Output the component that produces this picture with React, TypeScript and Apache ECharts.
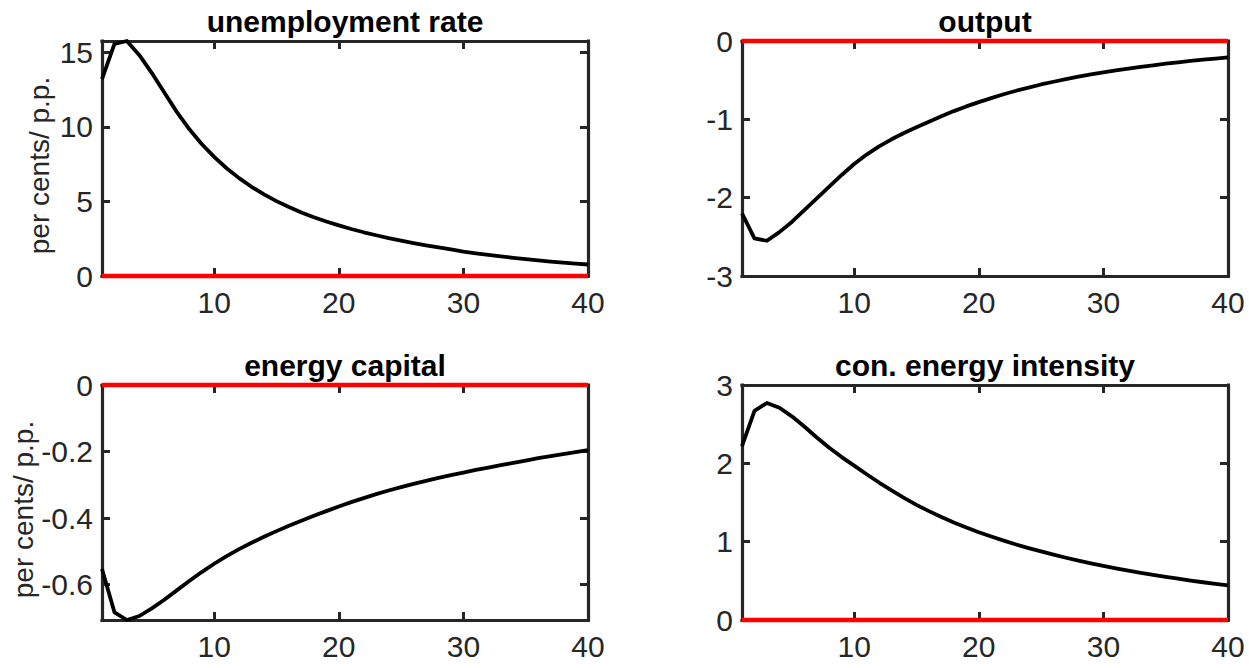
import { useEffect, useRef } from "react";
import * as echarts from "echarts";

// Impulse responses over 40 periods
const periods = [
  1, 2, 3, 4, 5, 6, 7, 8, 9, 10, 11, 12, 13, 14, 15, 16, 17, 18, 19, 20,
  21, 22, 23, 24, 25, 26, 27, 28, 29, 30, 31, 32, 33, 34, 35, 36, 37, 38, 39, 40,
];

const unemploymentRate = [
  13.2, 15.55, 15.75, 14.8, 13.6, 12.3, 11.0, 9.85, 8.85, 7.98,
  7.22, 6.56, 5.98, 5.47, 5.02, 4.62, 4.26, 3.94, 3.65, 3.39,
  3.15, 2.93, 2.73, 2.54, 2.37, 2.21, 2.06, 1.92, 1.78, 1.64,
  1.52, 1.41, 1.31, 1.22, 1.13, 1.05, 0.97, 0.9, 0.83, 0.77,
];

const output = [
  -2.2, -2.52, -2.55, -2.44, -2.31, -2.16, -2.01, -1.86, -1.71, -1.57,
  -1.45, -1.345, -1.255, -1.175, -1.1, -1.03, -0.96, -0.895, -0.835, -0.78,
  -0.73, -0.68, -0.635, -0.595, -0.555, -0.52, -0.487, -0.456, -0.427, -0.4,
  -0.375, -0.352, -0.33, -0.31, -0.29, -0.272, -0.255, -0.239, -0.224, -0.21,
];

const energyCapital = [
  -0.553, -0.683, -0.706, -0.694, -0.671, -0.645, -0.617, -0.589, -0.562, -0.537,
  -0.514, -0.493, -0.474, -0.456, -0.439, -0.423, -0.408, -0.393, -0.379, -0.365,
  -0.352, -0.34, -0.328, -0.317, -0.307, -0.297, -0.288, -0.279, -0.271, -0.263,
  -0.255, -0.248, -0.241, -0.234, -0.227, -0.22, -0.214, -0.208, -0.202, -0.196,
];

const conEnergyIntensity = [
  2.22, 2.67, 2.77, 2.71, 2.6, 2.47, 2.33, 2.2, 2.08, 1.97,
  1.86, 1.755, 1.655, 1.56, 1.47, 1.39, 1.315, 1.245, 1.18, 1.12,
  1.065, 1.013, 0.964, 0.918, 0.875, 0.834, 0.795, 0.758, 0.723, 0.69,
  0.659, 0.63, 0.602, 0.576, 0.551, 0.527, 0.504, 0.482, 0.461, 0.441,
];

const panelTitles = ["unemployment rate", "output", "energy capital", "con. energy intensity"];
const panelSeries = [unemploymentRate, output, energyCapital, conEnergyIntensity];
const yLimits = [
  [0, 15.75],
  [-3, 0],
  [-0.706, 0],
  [0, 3],
];
const yTickSteps = [5, 1, 0.2, 1];
const xLimits = [1, 40];
const xTickStep = 10;
const zeroLevel = 0;
const yAxisTitle = "per cents/ p.p.";

const FONT = "'Liberation Sans', Arial, Helvetica, sans-serif";
const AXIS_COLOR = "#262626";
const TICK_FONT = 30;

// subplot boxes in pixels
const GRID_W = 486;
const GRID_H = 235;
const gridBoxes = [
  { left: 102, top: 41 },
  { left: 742, top: 41 },
  { left: 102, top: 385 },
  { left: 742, top: 385 },
];

function tickFormatter(step: number) {
  return (v: number) => {
    const k = v / step;
    if (Math.abs(k - Math.round(k)) > 1e-6) return "";
    const r = Number(v.toFixed(6));
    return String(r === 0 ? 0 : r);
  };
}

function buildOption() {
  const grid: any[] = [];
  const xAxis: any[] = [];
  const yAxis: any[] = [];
  const series: any[] = [];
  const graphic: any[] = [];

  const lineStyle = { color: AXIS_COLOR, width: 3.2, cap: "square" };
  const tickStyle = { show: true, inside: true, length: 8, lineStyle: { color: AXIS_COLOR, width: 3 } };

  gridBoxes.forEach((box, i) => {
    grid.push({ left: box.left, top: box.top, width: GRID_W, height: GRID_H, containLabel: false });

    const xCommon = {
      type: "value",
      gridIndex: i,
      min: xLimits[0],
      max: xLimits[1],
      minInterval: xTickStep,
      maxInterval: xTickStep,
      axisLine: { show: true, onZero: false, lineStyle },
      axisTick: tickStyle,
      splitLine: { show: false },
    };
    xAxis.push({
      ...xCommon,
      position: "bottom",
      axisLabel: {
        show: true,
        formatter: tickFormatter(xTickStep),
        fontSize: TICK_FONT,
        fontFamily: FONT,
        color: AXIS_COLOR,
        margin: 11,
      },
    });
    xAxis.push({ ...xCommon, position: "top", axisLabel: { show: false } });

    const step = yTickSteps[i];
    const yCommon = {
      type: "value",
      gridIndex: i,
      min: yLimits[i][0],
      max: yLimits[i][1],
      minInterval: step,
      maxInterval: step,
      axisLine: { show: true, onZero: false, lineStyle },
      axisTick: tickStyle,
      splitLine: { show: false },
    };
    const leftAxis: any = {
      ...yCommon,
      position: "left",
      axisLabel: {
        show: true,
        formatter: tickFormatter(step),
        fontSize: TICK_FONT,
        fontFamily: FONT,
        color: AXIS_COLOR,
        margin: 9,
      },
    };
    if (i % 2 === 0) {
      leftAxis.name = yAxisTitle;
      leftAxis.nameLocation = "middle";
      leftAxis.nameGap = 49;
      leftAxis.nameTextStyle = {
        fontSize: 28,
        fontFamily: FONT,
        color: AXIS_COLOR,
        padding: [0, 14, 0, 0],
      };
    }
    yAxis.push(leftAxis);
    yAxis.push({ ...yCommon, position: "right", axisLabel: { show: false } });

    series.push({
      type: "line",
      xAxisIndex: 2 * i,
      yAxisIndex: 2 * i,
      data: periods.map((t, k) => [t, panelSeries[i][k]]),
      showSymbol: false,
      symbol: "none",
      clip: false,
      lineStyle: { color: "#000000", width: 3.8, join: "round" },
      z: 5,
    });
    series.push({
      type: "line",
      xAxisIndex: 2 * i,
      yAxisIndex: 2 * i,
      data: [
        [periods[0], zeroLevel],
        [periods[periods.length - 1], zeroLevel],
      ],
      showSymbol: false,
      symbol: "none",
      clip: false,
      lineStyle: { color: "#ff0000", width: 4.5 },
      z: 6,
    });

    graphic.push({
      type: "text",
      x: box.left + GRID_W / 2,
      y: box.top - 20,
      style: {
        text: panelTitles[i],
        fontSize: 30,
        fontWeight: "bold",
        fontFamily: FONT,
        fill: "#000000",
        align: "center",
        verticalAlign: "middle",
      },
    });
  });

  return {
    animation: false,
    backgroundColor: "#ffffff",
    grid,
    xAxis,
    yAxis,
    series,
    graphic,
  };
}

export default function App() {
  const ref = useRef<HTMLDivElement>(null);

  useEffect(() => {
    if (!ref.current) return;
    const chart = echarts.init(ref.current, undefined, { renderer: "svg" });
    chart.setOption(buildOption() as any);
    return () => chart.dispose();
  }, []);

  return (
    <div
      ref={ref}
      style={{ position: "fixed", left: 0, top: 0, width: 1249, height: 668, background: "#fff" }}
    />
  );
}
